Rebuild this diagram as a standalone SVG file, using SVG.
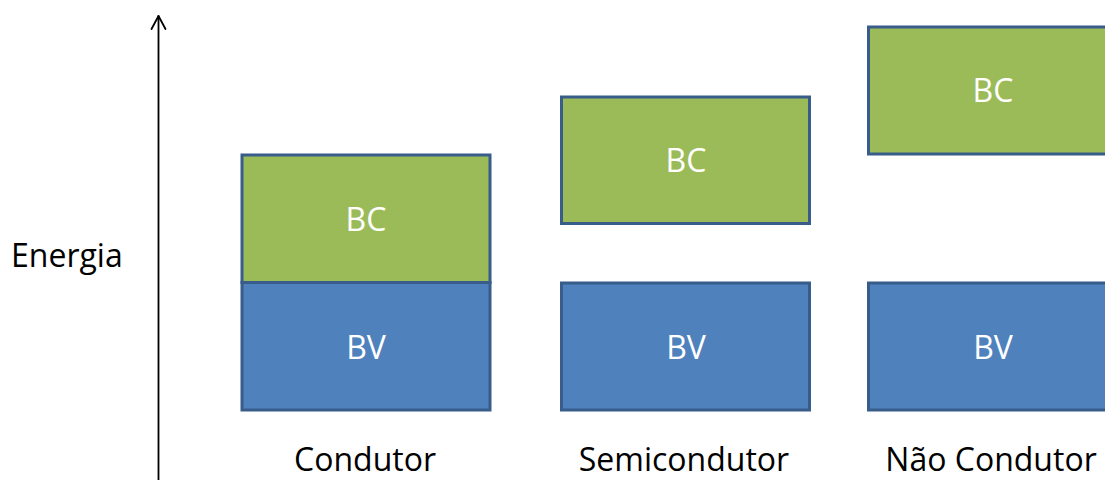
<svg xmlns="http://www.w3.org/2000/svg" width="1105" height="480" viewBox="0 0 1105 480">
<style>
.bc{fill:#9bbb59;stroke:#385d8a;stroke-width:3}
.bv{fill:#4f81bd;stroke:#385d8a;stroke-width:3}
.in{font-family:"Open Sans","Noto Sans",sans-serif;font-size:32px;fill:#ffffff;text-anchor:middle}
.lab{font-family:"Open Sans","Noto Sans",sans-serif;font-size:32px;fill:#000000;text-anchor:middle}
.ax{fill:none;stroke:#000000;stroke-width:1.8;stroke-linecap:round;stroke-linejoin:round}
</style>
<rect width="1105" height="480" fill="#ffffff"/>
<g id="connectors">
<line class="ax" x1="158.5" y1="481" x2="158.5" y2="16"/>
<polyline class="ax" points="151.5,29 158.5,16 165.5,29"/>
</g>
<g id="energia"><text class="lab" x="11" y="267" style="text-anchor:start">Energia</text></g>
<g id="condutor-bv"><rect class="bv" x="242" y="282.5" width="248" height="127.5"/><text class="in" x="366" y="359">BV</text></g>
<g id="condutor-bc"><rect class="bc" x="242" y="155" width="248" height="127.5"/><text class="in" x="366" y="231">BC</text></g>
<g id="condutor-label"><text class="lab" x="365" y="471">Condutor</text></g>
<g id="semi-bc"><rect class="bc" x="561.5" y="97" width="248" height="126.5"/><text class="in" x="686" y="172">BC</text></g>
<g id="semi-bv"><rect class="bv" x="561.5" y="283" width="248" height="127"/><text class="in" x="686" y="359">BV</text></g>
<g id="semi-label"><text class="lab" x="684" y="471">Semicondutor</text></g>
<g id="nao-bc"><rect class="bc" x="868.5" y="27" width="248" height="127"/><text class="in" x="993" y="102">BC</text></g>
<g id="nao-bv"><rect class="bv" x="868.5" y="283" width="248" height="127"/><text class="in" x="993" y="359">BV</text></g>
<g id="nao-label"><text class="lab" x="991" y="471">Não Condutor</text></g>
</svg>
